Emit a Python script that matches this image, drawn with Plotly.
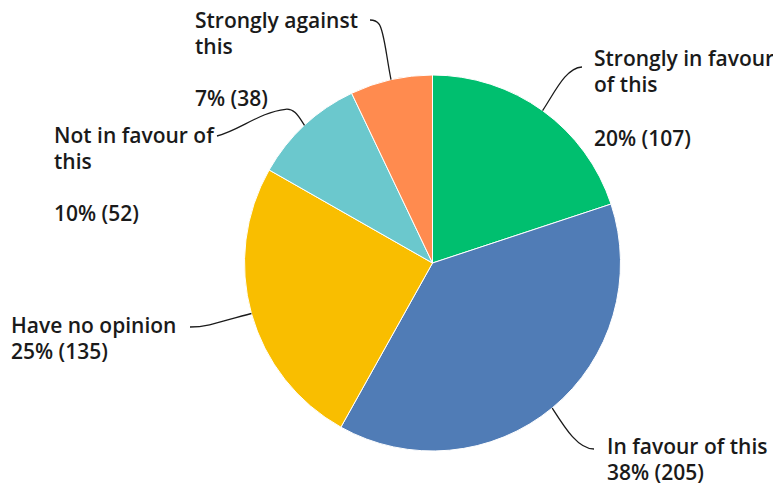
import math
import plotly.graph_objects as go

categories = ["Strongly in favour of this", "In favour of this", "Have no opinion",
              "Not in favour of this", "Strongly against this"]
counts = [107, 205, 135, 52, 38]
percent_labels = ["20%", "38%", "25%", "10%", "7%"]
colors = ["#00BF6F", "#507CB6", "#F9BE00", "#6BC8CD", "#FF8B4F"]

W, H = 781, 488
OFF = 8  # page body margin; axes are set so data units equal screen pixels
CX, CY, R = 432.5, 263, 188

fig = go.Figure()
fig.add_trace(go.Pie(
    labels=categories, values=counts, sort=False, direction="clockwise", rotation=0,
    marker=dict(colors=colors, line=dict(color="white", width=1)),
    textinfo="none", hoverinfo="label+value+percent", showlegend=False,
    domain=dict(x=[(CX - R - OFF) / W, (CX + R - OFF) / W],
                y=[1 - (CY + R - OFF) / H, 1 - (CY - R - OFF) / H]),
))

total = sum(counts)
mids = []
acc = 0
for c in counts:
    mids.append((acc + c / 2) / total * 2 * math.pi)
    acc += c
starts = [(CX + R * math.sin(a), CY - R * math.cos(a)) for a in mids]

FS = 21
font = dict(family="Open Sans", size=FS, color="#1a1a1a", weight=600)
label_cfg = [
    ("Strongly in favour<br>of this", 594, 65, 145),
    ("In favour of this", 607, 453, 479),
    ("Have no opinion", 11, 332, 358),
    ("Not in favour of<br>this", 54, 142, 220),
    ("Strongly against<br>this", 195, 27, 105),
]
ends = [(582, 67), (594, 449), (190, 327), (217, 136), (370, 20)]
ctrl = [
    [(556, 90), (566, 68)],
    [(565, 428), (578, 449)],
    [(225, 320), (210, 327)],
    None,
    None,
]

for i, (txt, x, b1, b2) in enumerate(label_cfg):
    lines = txt.split("<br>")
    for j, ln in enumerate(lines):
        fig.add_annotation(x=x - 1, y=b1 - 7 + 26 * j, xref="x", yref="y", text=ln,
                           showarrow=False, xanchor="left", yanchor="middle",
                           align="left", font=font, borderpad=0)
    fig.add_annotation(x=x - 1, y=b2 - 7, xref="x", yref="y",
                       text=f"{percent_labels[i]} ({counts[i]})", showarrow=False,
                       xanchor="left", yanchor="middle", align="left", font=font, borderpad=0)

for i in range(5):
    sx, sy = starts[i]
    ex, ey = ends[i]
    if i == 3:
        path = f"M{sx:.1f},{sy:.1f} C{sx-6:.1f},{sy-9:.1f} {sx-10:.1f},{sy-17:.1f} {sx-19:.1f},{sy-16:.1f} C260,112 240,130 {ex},{ey}"
    elif i == 4:
        path = f"M{sx:.1f},{sy:.1f} C{sx-5:.1f},{sy-25:.1f} 384,30 379,24 C376,20 373,20 {ex},{ey}"
    else:
        (c1x, c1y), (c2x, c2y) = ctrl[i]
        path = f"M{sx:.1f},{sy:.1f} C{c1x},{c1y} {c2x},{c2y} {ex},{ey}"
    fig.add_shape(type="path", path=path, xref="x", yref="y",
                  line=dict(color="#1a1a1a", width=1.3))

fig.update_xaxes(range=[OFF, W + OFF], visible=False, fixedrange=True)
fig.update_yaxes(range=[H + OFF, OFF], visible=False, fixedrange=True)
fig.update_layout(width=W, height=H, margin=dict(l=0, r=0, t=0, b=0),
                  paper_bgcolor="white", plot_bgcolor="rgba(0,0,0,0)")

fig.write_html("out.html")
